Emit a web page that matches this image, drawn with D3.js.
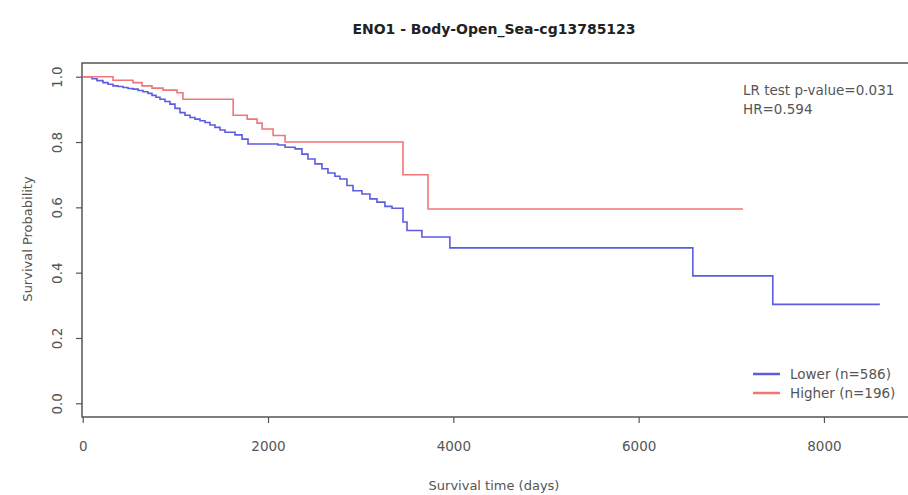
<!DOCTYPE html>
<html>
<head>
<meta charset="UTF-8">
<title>ENO1 - Body-Open_Sea-cg13785123</title>
<script src="https://d3js.org/d3.v7.min.js"></script>
<style>
  body { margin: 0; background: #fff; }
  svg text { font-family: "DejaVu Sans", Verdana, sans-serif; }
</style>
</head>
<body>
<svg width="908" height="495"></svg>
<script>
// survival curves (days, probability), last point = end of follow-up
const lowerDays = [0, 100, 154, 219, 273, 327, 381, 435, 489, 543, 597, 651, 705, 748, 791, 834, 888, 942, 996, 1050,
  1104, 1158, 1212, 1266, 1320, 1374, 1428, 1482, 1536, 1644, 1720, 1784, 2108, 2184, 2292, 2366, 2431, 2507, 2582,
  2647, 2722, 2776, 2852, 2917, 3014, 3100, 3176, 3262, 3338, 3457, 3500, 3661, 3963, 6585, 7448, 8603];
const lowerSurv = [1, 0.994, 0.988, 0.982, 0.977, 0.972, 0.970, 0.967, 0.964, 0.962, 0.958, 0.954, 0.949, 0.943, 0.937,
  0.931, 0.924, 0.916, 0.903, 0.890, 0.882, 0.875, 0.870, 0.865, 0.860, 0.852, 0.845, 0.837, 0.830, 0.822, 0.809, 0.794,
  0.791, 0.784, 0.779, 0.763, 0.748, 0.733, 0.718, 0.705, 0.695, 0.687, 0.667, 0.651, 0.641, 0.626, 0.616, 0.603, 0.597,
  0.555, 0.529, 0.509, 0.476, 0.390, 0.303, 0.303];

const higherDays = [0, 327, 543, 640, 748, 867, 1018, 1082, 1624, 1775, 1882, 1936, 2055, 2184, 3457, 3727, 7126];
const higherSurv = [1, 0.989, 0.982, 0.972, 0.965, 0.959, 0.951, 0.931, 0.882, 0.870, 0.858, 0.840, 0.820, 0.800,
  0.700, 0.595, 0.595];

const xTicks = [0, 2000, 4000, 6000, 8000];
const yTicks = [0, 0.2, 0.4, 0.6, 0.8, 1.0];
const groupNames = ["Lower (n=586)", "Higher (n=196)"];
const groupColors = ["#5c5ce0", "#ef7777"];
const statLines = ["LR test p-value=0.031", "HR=0.594"];

const svg = d3.select("svg");

const x = d3.scaleLinear().domain([0, 9000]).range([82.7, 916.6]);
const y = d3.scaleLinear().domain([-0.042, 1.042]).range([417, 63]);

// title
svg.append("text")
   .attr("x", 494).attr("y", 34)
   .attr("text-anchor", "middle")
   .attr("font-size", 14).attr("font-weight", "bold")
   .attr("fill", "#222")
   .text("ENO1 - Body-Open_Sea-cg13785123");

// box
svg.append("rect")
   .attr("x", 82).attr("y", 63)
   .attr("width", 840).attr("height", 354)
   .attr("fill", "none").attr("stroke", "#555").attr("stroke-width", 1.5);

// axes
const xAxis = svg.append("g")
   .attr("transform", "translate(0,417)")
   .call(d3.axisBottom(x).tickValues(xTicks).tickSize(6).tickPadding(18).tickFormat(d3.format("d")));

const yAxis = svg.append("g")
   .attr("transform", "translate(82,0)")
   .call(d3.axisLeft(y).tickValues(yTicks).tickSize(6).tickFormat(d3.format(".1f")));

[xAxis, yAxis].forEach(g => {
  g.select(".domain").remove();
  g.selectAll(".tick line").attr("stroke", "#555").attr("stroke-width", 1.2);
  g.selectAll(".tick text").attr("fill", "#555").attr("font-size", 13.5)
   .attr("font-family", "DejaVu Sans, Verdana, sans-serif");
});

yAxis.selectAll(".tick text")
   .attr("x", null)
   .attr("text-anchor", "middle")
   .attr("transform", "translate(-25,0) rotate(-90)")
   .attr("dy", "0.35em");

// axis titles
svg.append("text")
   .attr("x", 494).attr("y", 490)
   .attr("text-anchor", "middle")
   .attr("font-size", 13).attr("fill", "#555")
   .text("Survival time (days)");

svg.append("text")
   .attr("transform", "translate(32,239) rotate(-90)")
   .attr("text-anchor", "middle")
   .attr("font-size", 13).attr("fill", "#555")
   .text("Survival Probability");

// curves
const line = d3.line()
   .x(d => x(d[0]))
   .y(d => y(d[1]))
   .curve(d3.curveStepAfter);

const curves = [
  d3.zip(lowerDays, lowerSurv),
  d3.zip(higherDays, higherSurv)
];

svg.selectAll(".km")
   .data(curves)
   .enter()
   .append("path")
   .attr("class", "km")
   .attr("d", line)
   .attr("fill", "none")
   .attr("stroke", (d, i) => groupColors[i])
   .attr("stroke-width", 1.6);

// stats
svg.selectAll(".stat")
   .data(statLines)
   .enter()
   .append("text")
   .attr("class", "stat")
   .attr("x", 743)
   .attr("y", (d, i) => 95 + i * 19)
   .attr("font-size", 13.5).attr("fill", "#555")
   .text(d => d);

// legend
const legend = svg.selectAll(".leg")
   .data(groupNames)
   .enter()
   .append("g")
   .attr("class", "leg")
   .attr("transform", (d, i) => `translate(753,${374 + i * 19})`);

legend.append("line")
   .attr("x1", 0).attr("x2", 27)
   .attr("stroke", (d, i) => groupColors[i])
   .attr("stroke-width", 2.5);

legend.append("text")
   .attr("x", 37).attr("y", 5)
   .attr("font-size", 13.5).attr("fill", "#555")
   .text(d => d);
</script>
</body>
</html>
